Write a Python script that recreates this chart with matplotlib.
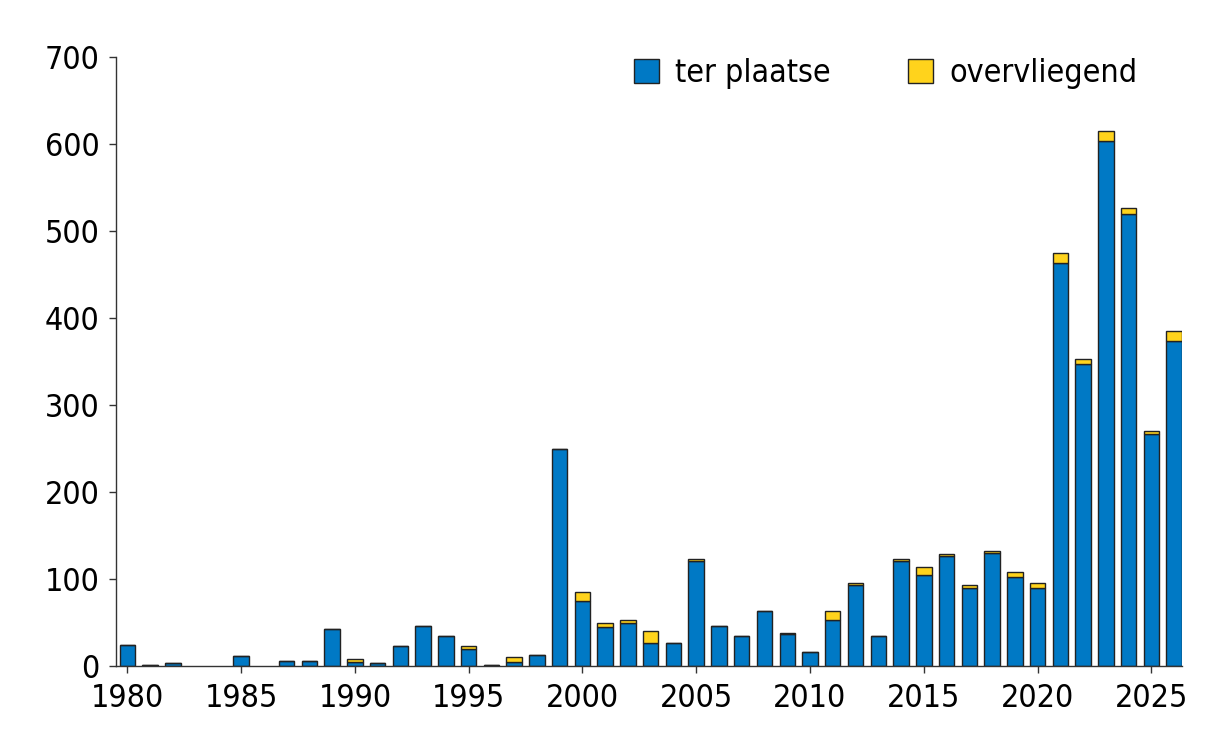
import matplotlib.pyplot as plt
import numpy as np
from matplotlib import font_manager
from matplotlib.patches import Patch

years = list(range(1980, 2027))
ter_plaatse = [24, 1, 4, 0, 0, 11, 0, 6, 6, 42, 5, 4, 23, 46, 34, 20,
               1, 5, 13, 249, 75, 45, 49, 27, 27, 121, 46, 35, 63, 37,
               16, 53, 93, 34, 121, 105, 127, 90, 130, 102, 90, 463, 347,
               603, 519, 267, 373]
overvliegend = [0, 0, 0, 0, 0, 0, 0, 0, 0, 1, 3, 0, 0, 0, 1, 3,
                0, 5, 0, 0, 10, 4, 4, 13, 0, 2, 0, 0, 0, 1,
                0, 10, 2, 1, 2, 9, 2, 3, 2, 6, 6, 12, 6,
                12, 7, 3, 12]
xticks = [1980, 1985, 1990, 1995, 2000, 2005, 2010, 2015, 2020, 2025]
yticks = [0, 100, 200, 300, 400, 500, 600, 700]

names = {f.name for f in font_manager.fontManager.ttflist}
if 'Liberation Sans Narrow' in names:
    plt.rcParams['font.family'] = ['Liberation Sans Narrow', 'DejaVu Sans']
else:
    plt.rcParams['font.family'] = ['DejaVu Sans']
    plt.rcParams['font.stretch'] = 'condensed'

blue = '#0079C5'
yellow = '#FFD31C'
edge = '#222222'

fig = plt.figure(figsize=(12.3, 7.44), dpi=100)
ax = fig.add_axes([0.0943, 0.1048, 0.8667, 0.8186])

# skip empty years so no stray outline shows on the baseline
tp = np.array(ter_plaatse, dtype=float)
ov = np.array(overvliegend, dtype=float)
tot = tp + ov
yrs = np.array(years)
ax.bar(yrs[tot > 0], tp[tot > 0], width=0.68, color=blue, edgecolor=edge,
       linewidth=1.0)
ax.bar(yrs[tot > 0], ov[tot > 0], width=0.68, bottom=tp[tot > 0],
       color=yellow, edgecolor=edge, linewidth=1.0)

ax.set_xlim(1979.5, 2026.35)
ax.set_ylim(0, 700)
ax.set_xticks(xticks)
ax.set_yticks(yticks)
ax.tick_params(labelsize=23, length=5, width=1, color='#333333')
ax.tick_params(axis='x', pad=7)
ax.tick_params(axis='y', pad=7)
for side in ['top', 'right']:
    ax.spines[side].set_visible(False)
for side in ['left', 'bottom']:
    ax.spines[side].set_color('#333333')
    ax.spines[side].set_linewidth(1)

handles = [Patch(facecolor=blue, edgecolor=edge, label='ter plaatse'),
           Patch(facecolor=yellow, edgecolor=edge, label='overvliegend')]
ax.legend(handles=handles, loc='upper right', bbox_to_anchor=(0.985, 1.045),
          ncol=2, frameon=False, fontsize=23, handlelength=0.8,
          handleheight=0.8, columnspacing=2.4, handletextpad=0.5)

fig.savefig('out.png', dpi=100)
